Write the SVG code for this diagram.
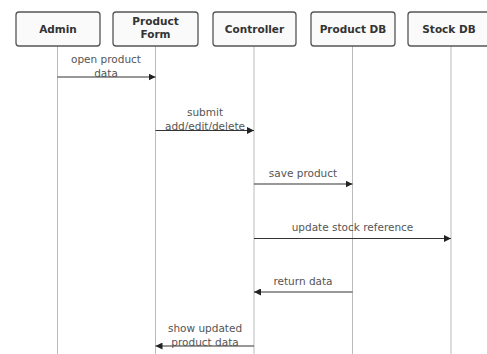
<svg xmlns="http://www.w3.org/2000/svg" width="487" height="354" viewBox="0 0 487 354">
<style>
.box{fill:#fafafa;stroke:#555;stroke-width:1.3}
.hd{font-family:"DejaVu Sans",sans-serif;font-size:10.5px;font-weight:bold;fill:#333;text-anchor:middle}
.life{stroke:#bbb;stroke-width:1}
.msg{stroke:#333;stroke-width:1.1;fill:none;marker-end:url(#ah)}
.lb{font-family:"DejaVu Sans",sans-serif;font-size:10.5px;fill:#555;text-anchor:middle}
</style>
<defs>
<marker id="ah" viewBox="0 0 10 10" refX="10" refY="5" markerWidth="7" markerHeight="7" markerUnits="userSpaceOnUse" orient="auto">
<path d="M0,0 L10,5 L0,10 z" fill="#222"/>
</marker>
</defs>
<rect width="487" height="354" fill="#fff"/>
<g id="lifelines">
<line class="life" x1="57.5" y1="46" x2="57.5" y2="354"/>
<line class="life" x1="155.5" y1="46" x2="155.5" y2="354"/>
<line class="life" x1="254" y1="46" x2="254" y2="354"/>
<line class="life" x1="352.5" y1="46" x2="352.5" y2="354"/>
<line class="life" x1="451" y1="46" x2="451" y2="354"/>
</g>
<g id="admin"><rect class="box" x="16" y="12" width="84" height="34" rx="3"/><text class="hd" x="58" y="32.5">Admin</text></g>
<g id="productform"><rect class="box" x="113" y="12" width="85" height="34" rx="3"/><text class="hd" x="155.5" y="24.5">Product</text><text class="hd" x="155.5" y="38">Form</text></g>
<g id="controller"><rect class="box" x="213" y="12" width="83" height="34" rx="3"/><text class="hd" x="254.5" y="32.5">Controller</text></g>
<g id="productdb"><rect class="box" x="311" y="12" width="84" height="34" rx="3"/><text class="hd" x="353" y="32.5">Product DB</text></g>
<g id="stockdb"><rect class="box" x="408" y="12" width="86" height="34" rx="3"/><text class="hd" x="449" y="32.5">Stock DB</text></g>
<g id="connectors">
<line class="msg" x1="57.5" y1="77" x2="155.5" y2="77"/>
<text class="lb" x="106" y="63">open product</text><text class="lb" x="106" y="77">data</text>
<line class="msg" x1="155.5" y1="130.5" x2="254" y2="130.5"/>
<text class="lb" x="205" y="116">submit</text><text class="lb" x="205" y="130">add/edit/delete</text>
<line class="msg" x1="254" y1="184" x2="352.5" y2="184"/>
<text class="lb" x="303" y="177">save product</text>
<line class="msg" x1="254" y1="238.5" x2="451" y2="238.5"/>
<text class="lb" x="352.5" y="231">update stock reference</text>
<line class="msg" x1="352.5" y1="292" x2="254" y2="292"/>
<text class="lb" x="303" y="285">return data</text>
<line class="msg" x1="254" y1="346" x2="155.5" y2="346"/>
<text class="lb" x="205" y="332">show updated</text><text class="lb" x="205" y="346">product data</text>
</g>
</svg>
